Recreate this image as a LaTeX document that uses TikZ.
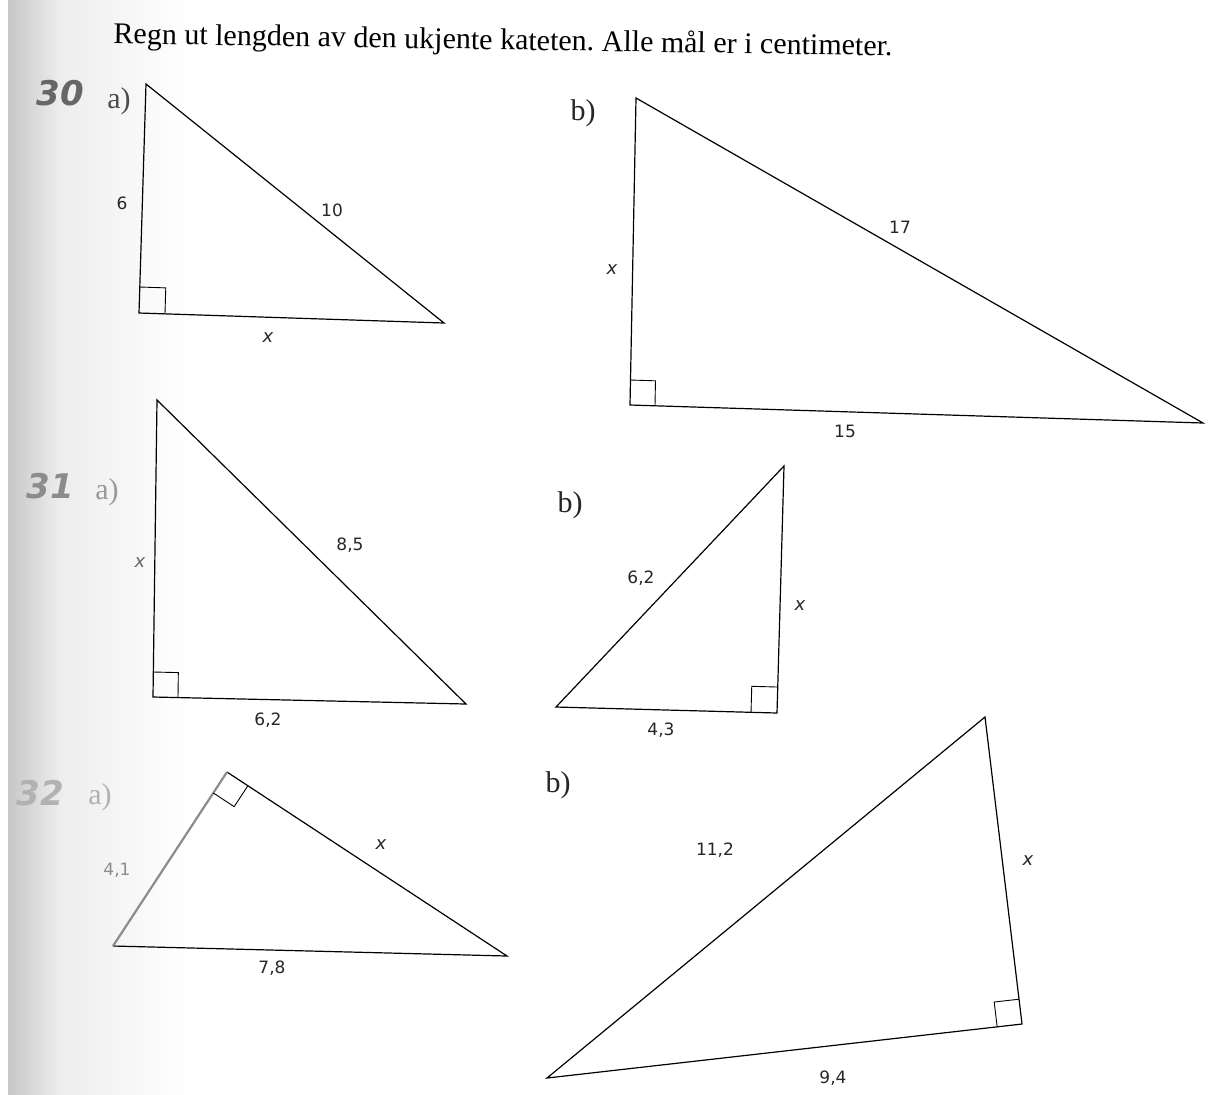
\documentclass[tikz,border=0pt]{standalone}
\usepackage{fontspec}
\setmainfont{Liberation Serif}
\newfontfamily\lblfont{DejaVu Sans}
\usetikzlibrary{calc}
\frenchspacing
\tikzset{
  tri/.style={draw=black, line width=0.6pt, line join=miter},
  rbox/.style={draw=black, line width=0.45pt},
  lbl/.style={font=\lblfont\fontsize{8.5}{10}\selectfont, text=black!85, inner sep=0pt},
  xlbl/.style={font=\lblfont\itshape\fontsize{9}{10}\selectfont, text=black!85, inner sep=0pt},
  num/.style={font=\lblfont\bfseries\itshape\fontsize{17}{19}\selectfont, inner sep=0pt},
  part/.style={font=\fontsize{15}{17}\selectfont, inner sep=0pt},
}
\newcommand{\rightbox}[4]{% vertex, leg1 end, leg2 end, size
  \draw[rbox] ($(#1)!#4!(#2)$) -- ($($(#1)!#4!(#2)$)+($(#1)!#4!(#3)$)-(#1)$) -- ($(#1)!#4!(#3)$);
}
\begin{document}
\begin{tikzpicture}[x=0.5pt,y=-0.5pt]
\useasboundingbox (0,0) rectangle (1208,1094);
\fill[white] (0,0) rectangle (1208,1094);
\shade[left color=black!22, right color=black!7] (8,0) rectangle (60,1094);
\shade[left color=black!7, right color=white] (60,0) rectangle (190,1094);

% title
\node[font=\fontsize{15}{18}\selectfont, rotate=-0.9, inner sep=0pt] (title) at (503,42) {Regn ut lengden av den ukjente kateten. Alle mål er i centimeter.};

% headers
\node[num, text=black!60] (n30) at (60,93) {30};
\node[part, text=black!70] (a30) at (119,101) {a)};
\node[part, text=black!85] (b30) at (583,113) {b)};
\node[num, text=black!45] (n31) at (50,486) {31};
\node[part, text=black!40] (a31) at (107,492) {a)};
\node[part, text=black!85] (b31) at (570,505) {b)};
\node[num, text=black!30] (n32) at (40,793) {32};
\node[part, text=black!30] (a32) at (100,797) {a)};
\node[part, text=black!85] (b32) at (558,785) {b)};

% 30 a
\coordinate (pA) at (146,84);
\coordinate (pB) at (139,313);
\coordinate (pC) at (444,323);
\draw[tri] (pA) -- (pB) -- (pC) -- cycle;
\rightbox{pB}{pA}{pC}{13pt}
\node[lbl] (l6) at (122,203) {6};
\node[lbl] (l10) at (332,210) {10};
\node[xlbl] (lxa) at (268,338) {x};

% 30 b
\coordinate (qA) at (636,98);
\coordinate (qB) at (630,405);
\coordinate (qC) at (1203,423);
\draw[tri] (qA) -- (qB) -- (qC) -- cycle;
\rightbox{qB}{qA}{qC}{12.5pt}
\node[xlbl] (lxb) at (612,270) {x};
\node[lbl] (l17) at (900,227) {17};
\node[lbl] (l15) at (845,431) {15};

% 31 a
\coordinate (rA) at (157,400);
\coordinate (rB) at (153,697);
\coordinate (rC) at (466,704);
\draw[tri] (rA) -- (rB) -- (rC) -- cycle;
\rightbox{rB}{rA}{rC}{12.5pt}
\node[xlbl, text=black!60] (lxc) at (140,563) {x};
\node[lbl] (l85) at (350,545) {8,5};
\node[lbl] (l62a) at (268,720) {6,2};

% 31 b
\coordinate (sL) at (556,707);
\coordinate (sT) at (784,466);
\coordinate (sR) at (777,713);
\draw[tri] (sL) -- (sT) -- (sR) -- cycle;
\rightbox{sR}{sT}{sL}{13pt}
\node[lbl] (l62b) at (641,578) {6,2};
\node[xlbl] (lxd) at (800,606) {x};
\node[lbl] (l43) at (661,730) {4,3};

% 32 a
\coordinate (tL) at (113,946);
\coordinate (tV) at (227,772);
\coordinate (tR) at (507,956);
\draw[tri] (tV) -- (tR) -- (tL);
\draw[line width=1.1pt, draw=black!45] (tL) -- (tV);
\rightbox{tV}{tL}{tR}{12.5pt}
\node[lbl, text=black!45] (l41) at (117,870) {4,1};
\node[xlbl] (lxe) at (381,845) {x};
\node[lbl] (l78) at (272,968) {7,8};

% 32 b
\coordinate (uL) at (547,1078);
\coordinate (uT) at (985,717);
\coordinate (uR) at (1022,1024);
\draw[tri] (uL) -- (uT) -- (uR) -- cycle;
\rightbox{uR}{uT}{uL}{12.5pt}
\node[lbl] (l112) at (715,850) {11,2};
\node[xlbl] (lxf) at (1028,861) {x};
\node[lbl] (l94) at (833,1078) {9,4};
\end{tikzpicture}
\end{document}
